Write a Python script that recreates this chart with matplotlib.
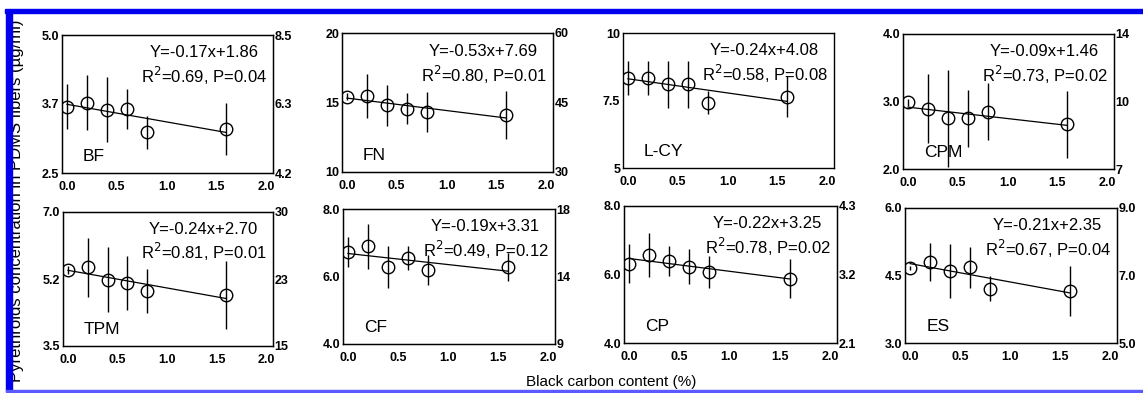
import numpy as np
import matplotlib.pyplot as plt

plt.rcParams['font.family'] = ['Liberation Sans', 'DejaVu Sans']

# black carbon content (%)
bc = [0.0, 0.2, 0.4, 0.6, 0.8, 1.6]

names = ['BF', 'FN', 'L-CY', 'CPM', 'TPM', 'CF', 'CP', 'ES']

# mean concentrations (left axis units)
bf = [3.70, 3.77, 3.65, 3.66, 3.24, 3.30]
fn = [15.42, 15.47, 14.80, 14.55, 14.34, 14.10]
lcy = [8.35, 8.33, 8.10, 8.10, 7.42, 7.64]
cpm = [2.99, 2.89, 2.75, 2.75, 2.85, 2.66]
tpm = [5.49, 5.56, 5.23, 5.15, 4.93, 4.84]
cf = [6.72, 6.89, 6.28, 6.54, 6.20, 6.28]
cp = [6.32, 6.56, 6.39, 6.23, 6.08, 5.88]
es = [4.67, 4.80, 4.61, 4.68, 4.21, 4.15]

# standard deviations
bf_err = [0.41, 0.50, 0.59, 0.36, 0.30, 0.47]
fn_err = [0.25, 1.60, 1.47, 1.10, 1.45, 1.70]
lcy_err = [0.63, 0.62, 0.86, 0.86, 0.43, 0.76]
cpm_err = [0.05, 0.51, 0.72, 0.42, 0.42, 0.49]
tpm_err = [0.10, 0.77, 0.85, 0.70, 0.57, 0.89]
cf_err = [0.44, 0.66, 0.62, 0.35, 0.45, 0.41]
cp_err = [0.58, 0.64, 0.43, 0.52, 0.46, 0.56]
es_err = [0.05, 0.43, 0.60, 0.46, 0.27, 0.56]

means = [bf, fn, lcy, cpm, tpm, cf, cp, es]
errs = [bf_err, fn_err, lcy_err, cpm_err, tpm_err, cf_err, cp_err, es_err]

# axis ticks: left values/labels, right labels
left_ticks = [[2.5, 3.75, 5.0], [10, 15, 20], [5, 7.5, 10], [2.0, 3.0, 4.0],
              [3.5, 5.25, 7.0], [4.0, 6.0, 8.0], [4.0, 6.0, 8.0], [3.0, 4.5, 6.0]]
left_labels = [['2.5', '3.7', '5.0'], ['10', '15', '20'], ['5', '7.5', '10'],
               ['2.0', '3.0', '4.0'], ['3.5', '5.2', '7.0'], ['4.0', '6.0', '8.0'],
               ['4.0', '6.0', '8.0'], ['3.0', '4.5', '6.0']]
right_labels = [['4.2', '6.3', '8.5'], ['30', '45', '60'], None,
                ['7', '10', '14'], ['15', '23', '30'], ['9', '14', '18'],
                ['2.1', '3.2', '4.3'], ['5.0', '7.0', '9.0']]

eqs = ['Y=-0.17x+1.86', 'Y=-0.53x+7.69', 'Y=-0.24x+4.08', 'Y=-0.09x+1.46',
       'Y=-0.24x+2.70', 'Y=-0.19x+3.31', 'Y=-0.22x+3.25', 'Y=-0.21x+2.35']
stats = ['R$^2$=0.69, P=0.04', 'R$^2$=0.80, P=0.01', 'R$^2$=0.58, P=0.08',
         'R$^2$=0.73, P=0.02', 'R$^2$=0.81, P=0.01', 'R$^2$=0.49, P=0.12',
         'R$^2$=0.78, P=0.02', 'R$^2$=0.67, P=0.04']

# panel boxes in pixels: left, top, right, bottom
boxes = [(62, 35, 273, 173), (342, 33, 553, 172), (623, 33, 834, 168), (903, 34, 1114, 169),
         (63, 212, 273, 346), (343, 209, 555, 344), (624, 206, 837, 343), (905, 208, 1117, 343)]

W, H = 1143, 393
fig = plt.figure(figsize=(W / 100, H / 100), dpi=100)

for i in range(8):
    l, t, r, b = boxes[i]
    ax = fig.add_axes([l / W, (H - b) / H, (r - l) / W, (b - t) / H])
    x = np.array(bc)
    y = np.array(means[i])
    ax.errorbar(x, y, yerr=errs[i], fmt='o', ms=9, mfc='none', mec='black',
                mew=1.0, ecolor='black', elinewidth=1.0, capsize=0, zorder=3)
    k, c = np.polyfit(x, y, 1)
    xl = np.array([x.min(), x.max()])
    ax.plot(xl, k * xl + c, color='black', lw=0.9, zorder=2)
    ax.set_xlim(-0.05, 2.07)
    ax.set_ylim(left_ticks[i][0], left_ticks[i][-1])
    ax.set_xticks([0.0, 0.5, 1.0, 1.5, 2.0], ['0.0', '0.5', '1.0', '1.5', '2.0'],
                  fontweight='bold')
    ax.set_yticks(left_ticks[i], left_labels[i], fontweight='bold')
    ax.tick_params(length=0, labelsize=9)
    ax.tick_params(axis='x', pad=6)
    ax.tick_params(axis='y', pad=2)
    for s in ax.spines.values():
        s.set_linewidth(1.0)
    if right_labels[i] is not None:
        ax2 = ax.twinx()
        ax2.set_ylim(ax.get_ylim())
        ax2.set_yticks(left_ticks[i], right_labels[i], fontweight='bold')
        ax2.tick_params(length=0, labelsize=9, pad=1)
    ax.text(0.93, 0.87, eqs[i], transform=ax.transAxes, ha='right', va='center', fontsize=12)
    ax.text(0.97, 0.70, stats[i], transform=ax.transAxes, ha='right', va='center', fontsize=12)
    ax.text(0.10, 0.12, names[i], transform=ax.transAxes, ha='left', va='center', fontsize=12.5)

fig.text(17 / W, 0.49, 'Pyrethroids concentration in PDMS fibers (\u00b5g/ml)',
         rotation=90, ha='center', va='center', fontsize=12)
fig.text(611 / W, (H - 382) / H, 'Black carbon content (%)', ha='center', va='center', fontsize=11)

# blue frame of the scanned page
fig.add_artist(plt.Rectangle((5 / W, (H - 13) / H), 1 - 5 / W, 4 / H, color='#0000ee',
                             transform=fig.transFigure, zorder=5))
fig.add_artist(plt.Rectangle((6 / W, (H - 391) / H), 6 / W, 380 / H, color='#0000ee',
                             transform=fig.transFigure, zorder=5))
fig.add_artist(plt.Rectangle((6 / W, (H - 392) / H), 1 - 6 / W, 2 / H, color='#5a5aff',
                             transform=fig.transFigure, zorder=5))

fig.savefig('out.png', dpi=100)
